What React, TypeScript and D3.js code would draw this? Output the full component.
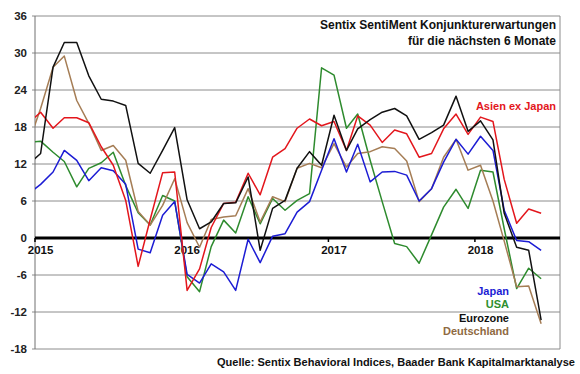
import React, { useRef, useEffect } from "react";
import * as d3 from "d3";

const W = 580;
const H = 374;
const plot = { left: 35, right: 560, top: 16, bottom: 349 };
const FONT = "'Liberation Sans', Arial, sans-serif";

// monthly values, Dec 2014 .. Jun 2018 (Dec 2014 only feeds the clipped start)
const firstMonth = new Date(2014, 11, 15);
const eurozone = [11.9, 13.7, 27.7, 31.7, 31.7, 26.3, 22.5, 22.2, 21.5, 12.1, 10.5, 14.2, 17.9, 6.2, 1.5, 2.6, 5.6, 5.7, 9.9, -2.0, 4.8, 6.1, 11.3, 14.0, 11.8, 19.9, 14.2, 17.7, 19.2, 20.4, 21.0, 19.8, 16.0, 17.1, 18.3, 23.0, 17.3, 19.0, 15.9, 4.0, -1.5, -2.0, -13.3];
const asien = [18.6, 20.4, 17.8, 19.5, 19.5, 18.7, 14.8, 11.8, 6.1, -4.6, 3.0, 10.6, 10.7, -8.5, -5.0, 1.7, 5.6, 5.8, 10.5, 7.0, 13.1, 14.5, 17.8, 19.3, 18.2, 18.9, 14.2, 19.8, 18.3, 15.5, 17.5, 16.9, 13.1, 13.7, 17.7, 20.1, 16.8, 19.6, 18.9, 9.5, 2.4, 4.7, 4.0];
const japan = [7.1, 8.7, 10.7, 14.2, 12.6, 9.3, 11.4, 10.9, 8.7, -1.8, -2.4, 3.7, 5.9, -5.9, -7.3, -4.2, -5.5, -8.5, -0.2, -4.0, 0.3, 0.7, 4.2, 5.9, 11.0, 16.1, 10.7, 15.2, 9.1, 10.7, 10.8, 10.2, 6.0, 8.0, 12.3, 16.0, 13.6, 16.5, 14.2, 4.5, -0.4, -0.6, -2.0];
const usa = [15.5, 15.7, 13.9, 12.4, 8.3, 11.3, 12.2, 13.9, 8.5, 4.1, 2.1, 6.9, 6.0, -6.3, -8.7, -1.4, 2.9, 0.8, 6.7, 2.3, 6.4, 4.5, 6.1, 7.2, 27.6, 26.4, 17.8, 20.1, 12.6, 5.9, -0.9, -1.4, -4.1, 0.5, 5.0, 7.9, 4.8, 11.0, 10.7, 1.5, -8.2, -4.9, -6.6];
const deutschland = [15.2, 21.0, 27.7, 29.5, 22.3, 18.6, 14.2, 15.0, 12.6, 4.3, 2.1, 5.3, 9.6, 2.5, -1.5, 3.0, 3.4, 3.6, 8.0, 2.6, 6.7, 5.9, 11.3, 12.1, 11.4, 15.3, 11.5, 13.7, 14.0, 14.8, 14.5, 12.5, 5.9, 8.0, 13.1, 16.0, 11.0, 11.8, 6.0, -0.5, -7.9, -7.8, -13.9];

const yTicks = [36, 30, 24, 18, 12, 6, 0, -6, -12, -18];
const years = [2015, 2016, 2017, 2018];

const series = [
    { name: "USA", values: usa, color: "#2e8b2e" },
    { name: "Deutschland", values: deutschland, color: "#a57d55" },
    { name: "Japan", values: japan, color: "#1c1cd4" },
    { name: "Asien ex Japan", values: asien, color: "#e3161c" },
    { name: "Eurozone", values: eurozone, color: "#111111" },
];

const labels = [
    { text: "Japan", color: "#1c1cd4", y: 295 },
    { text: "USA", color: "#2e8f2e", y: 308 },
    { text: "Eurozone", color: "#111111", y: 321.5 },
    { text: "Deutschland", color: "#8f6a42", y: 334.5 },
];

function draw(el: SVGSVGElement) {
    const svg = d3.select(el);
    svg.selectAll("*").remove();

    const x = d3
        .scaleTime()
        .domain([new Date(2015, 0, 1), new Date(2018, 7, 1)])
        .range([plot.left, plot.right]);
    const y = d3.scaleLinear().domain([-18, 36]).range([plot.bottom, plot.top]);

    svg.append("rect").attr("width", W).attr("height", H).attr("fill", "white");

    svg.append("defs")
        .append("clipPath")
        .attr("id", "plotclip")
        .append("rect")
        .attr("x", plot.left)
        .attr("y", plot.top - 5)
        .attr("width", plot.right - plot.left)
        .attr("height", plot.bottom - plot.top + 10);

    // gridlines
    svg.append("g")
        .selectAll("line")
        .data(yTicks.filter((d) => d !== 0))
        .join("line")
        .attr("x1", plot.left - 3)
        .attr("x2", plot.right)
        .attr("y1", (d) => y(d))
        .attr("y2", (d) => y(d))
        .attr("stroke", "#8c8c8c")
        .attr("stroke-width", 1);

    // frame
    svg.append("line")
        .attr("x1", plot.left).attr("x2", plot.left)
        .attr("y1", plot.top).attr("y2", plot.bottom)
        .attr("stroke", "#707070");
    svg.append("line")
        .attr("x1", plot.right).attr("x2", plot.right)
        .attr("y1", plot.top).attr("y2", plot.bottom)
        .attr("stroke", "#8c8c8c");

    // y labels
    svg.append("g")
        .selectAll("text")
        .data(yTicks)
        .join("text")
        .attr("x", 27)
        .attr("y", (d) => y(d))
        .attr("dy", "0.35em")
        .attr("text-anchor", "end")
        .attr("font-family", FONT)
        .attr("font-weight", "bold")
        .attr("font-size", 11.5)
        .attr("fill", "#222")
        .text((d) => d);

    // zero line + year ticks
    svg.append("line")
        .attr("x1", plot.left).attr("x2", plot.right)
        .attr("y1", y(0)).attr("y2", y(0))
        .attr("stroke", "#000")
        .attr("stroke-width", 3);
    svg.append("g")
        .selectAll("line")
        .data(years)
        .join("line")
        .attr("x1", (d) => x(new Date(d, 0, 1)))
        .attr("x2", (d) => x(new Date(d, 0, 1)))
        .attr("y1", y(0))
        .attr("y2", y(0) + 4)
        .attr("stroke", "#000")
        .attr("stroke-width", 1.5);
    svg.append("g")
        .selectAll("text")
        .data(years)
        .join("text")
        .attr("x", (d) => x(new Date(d, 0, 15)))
        .attr("y", 254)
        .attr("text-anchor", "middle")
        .attr("font-family", FONT)
        .attr("font-weight", "bold")
        .attr("font-size", 11.5)
        .attr("fill", "#111")
        .text((d) => d);

    // series
    const line = d3
        .line<number>()
        .x((_d, i) => x(new Date(firstMonth.getFullYear(), firstMonth.getMonth() + i, 15)))
        .y((d) => y(d));
    svg.append("g")
        .attr("clip-path", "url(#plotclip)")
        .selectAll("path")
        .data(series)
        .join("path")
        .attr("fill", "none")
        .attr("stroke", (d) => d.color)
        .attr("stroke-width", 1.5)
        .attr("stroke-linejoin", "round")
        .attr("d", (d) => line(d.values));

    // title
    const title = svg.append("text")
        .attr("text-anchor", "end")
        .attr("font-family", FONT)
        .attr("font-weight", "bold")
        .attr("font-size", 12)
        .attr("fill", "#111");
    title.append("tspan").attr("x", 556).attr("y", 29).text("Sentix SentiMent Konjunkturerwartungen");
    title.append("tspan").attr("x", 556).attr("y", 45).text("für die nächsten 6 Monate");

    svg.append("text")
        .attr("x", 556)
        .attr("y", 110)
        .attr("text-anchor", "end")
        .attr("font-family", FONT)
        .attr("font-weight", "bold")
        .attr("font-size", 11)
        .attr("fill", "#e3161c")
        .text("Asien ex Japan");

    svg.append("g")
        .selectAll("text")
        .data(labels)
        .join("text")
        .attr("x", 509)
        .attr("y", (d) => d.y)
        .attr("text-anchor", "end")
        .attr("font-family", FONT)
        .attr("font-weight", "bold")
        .attr("font-size", 11)
        .attr("fill", (d) => d.color)
        .text((d) => d.text);

    svg.append("text")
        .attr("x", 217)
        .attr("y", 366)
        .attr("font-family", FONT)
        .attr("font-weight", "bold")
        .attr("font-size", 11)
        .attr("fill", "#111")
        .attr("textLength", 358)
        .attr("lengthAdjust", "spacingAndGlyphs")
        .text("Quelle: Sentix Behavioral Indices, Baader Bank Kapitalmarktanalyse");
}

export default function App() {
    const ref = useRef<SVGSVGElement>(null);
    useEffect(() => {
        if (ref.current) draw(ref.current);
    }, []);
    return (
        <svg
            ref={ref}
            width={W}
            height={H}
            style={{ position: "absolute", left: 0, top: 0, display: "block" }}
        />
    );
}
